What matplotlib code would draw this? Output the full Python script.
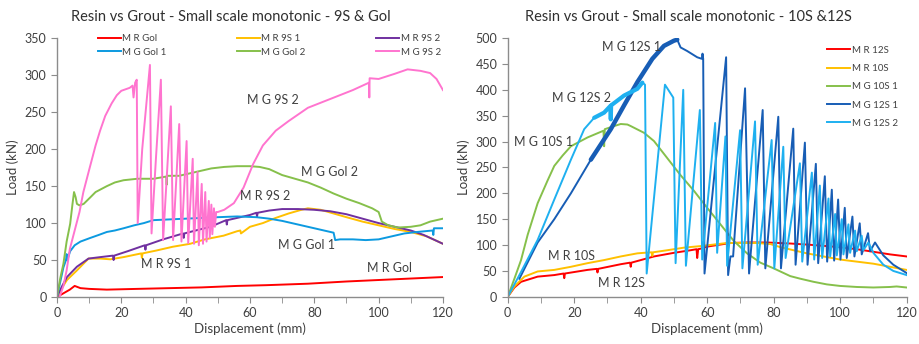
import numpy as np
import matplotlib.pyplot as plt
from matplotlib.ticker import MultipleLocator

plt.rcParams['font.family'] = ['Lato', 'DejaVu Sans']

# ---- left chart: 9S & Gol ----
mr_gol_x = [0, 2, 4, 5.5, 7.3, 10, 15.5, 25, 35, 45, 56, 65, 78, 90, 100, 110, 120]
mr_gol_y = [0, 5, 10, 15, 12, 11, 10, 11, 12, 13, 15, 16, 18, 21, 23, 25, 27]

mr_9s1_x = [0, 1.5, 3.1, 6.2, 9.8, 13.5, 16.6, 20.7, 26.2, 26.4, 26.6, 31, 36, 41.4, 46,
            51.8, 56, 57, 57.2, 60, 64, 68, 72, 76, 78, 82, 86, 90, 95, 100, 105, 110,
            115, 118, 120]
mr_9s1_y = [0, 12, 23, 36, 52, 52, 51, 54, 59, 53, 59, 63, 68, 72, 78,
            83, 89, 90, 86, 95, 100, 107, 113, 118, 120, 118, 113, 108, 102, 97, 92, 88,
            82, 76, 72]

mr_9s2_x = [0, 1.5, 3.1, 6.2, 9.8, 13.5, 17.4, 17.6, 17.8, 22, 27.3, 27.5, 27.7, 33,
            39.2, 39.4, 39.6, 44, 47.7, 52.6, 52.8, 53.0, 56, 60, 62, 62.2, 62.4, 66, 70,
            75, 80, 85, 90, 95, 100, 105, 110, 114, 117, 120]
mr_9s2_y = [0, 14, 27, 41, 52, 54, 56, 50, 56, 62, 70, 64, 70, 78,
            86, 80, 86, 91, 95, 104, 98, 104, 107, 111, 114, 109, 114, 117, 119,
            119, 118, 116, 112, 106, 100, 95, 90, 84, 78, 72]

mg_gol1_x = [0, 1, 2, 2.8, 3.0, 3.2, 4.1, 5.5, 7.3, 10.4, 13, 15.5, 18, 20.7, 24, 27, 30,
             35, 40, 45, 50, 56, 62, 66, 70, 75, 80, 84, 86, 86.5, 88, 92, 96, 100, 104,
             108, 112, 116.8, 117, 117.2, 120]
mg_gol1_y = [0, 20, 40, 50, 58, 50, 62, 70, 75, 80, 84, 88, 90, 93, 97, 100, 104,
             105, 106, 107, 108, 109, 108, 106, 103, 98, 93, 89, 87, 77, 78, 78, 77, 78, 82,
             86, 88, 90, 84, 93, 93]

mg_gol2_x = [0, 1, 2, 3, 4.1, 4.8, 5.3, 5.8, 6.2, 7, 8.3, 10.4, 12, 15.5, 18, 20.7, 25, 30,
             34, 34.1, 34.2, 38, 40, 44, 48, 52, 56, 60, 63, 66, 70, 74, 78, 82, 86, 90,
             94, 98, 100, 101, 103, 106, 110, 113, 116, 120]
mg_gol2_y = [0, 25, 45, 75, 99, 125, 142, 135, 126, 124, 126, 135, 142, 150, 155, 158, 160,
             160, 163, 152, 164, 164, 166, 170, 174, 176, 177, 177, 176, 173, 165, 160, 155,
             148, 140, 133, 127, 120, 115, 102, 97, 94, 95, 97, 102, 106]

mg_9s2_x = [0.8, 2, 3, 4, 5.5, 7, 8.2, 10, 12, 13.4, 15, 17, 18.6, 20, 22.6, 23.5, 23.8,
            24.3, 24.8, 25.1, 26.5, 28.9, 29.4, 30.8, 32.3, 33, 35.4, 36.1, 38, 38.7, 40.3,
            40.8, 42.2, 42.6, 43.7, 44.1, 45, 45.4, 46.1, 46.5, 47.2, 47.5, 48, 48.3, 48.8,
            49.1, 49.5, 50, 52, 55, 58, 61, 64, 68, 72, 78, 85, 92, 97, 97.1, 97.2, 100,
            105, 109, 113, 116, 118, 120]
mg_9s2_y = [0, 15, 36, 65, 90, 115, 142, 172, 205, 225, 245, 262, 273, 279, 283, 286, 270,
            290, 294, 100, 200, 314, 86, 190, 294, 77, 258, 77, 234, 75, 211,
            73, 187, 72, 169, 70, 153, 72, 142, 75, 130, 80, 125, 85, 120,
            95, 115, 115, 118, 127, 148, 180, 205, 225, 238, 256, 268, 280, 290, 270, 296, 295,
            302, 308, 306, 303, 295, 280]

# ---- right chart: 10S & 12S ----
mr_12s_x = [0, 2, 4, 9, 14, 16.8, 17, 17.2, 24, 26.8, 27, 27.2, 34, 36.8, 37, 37.2, 44, 50,
            55, 56.8, 57, 57.3, 58, 60, 63, 67, 72, 78, 85, 90, 96, 100, 105, 110, 115, 120]
mr_12s_y = [0, 18, 29, 39, 42, 45, 36, 45, 52, 54, 47, 54, 63, 66, 58, 66, 78, 85,
            90, 92, 75, 92, 93, 97, 100, 104, 105, 105, 103, 101, 98, 96, 92, 87, 82, 78]

mr_10s_x = [0, 2, 5, 9, 14, 19, 24, 29, 34, 39, 41, 43.3, 43.5, 43.7, 48, 53, 58, 62, 66, 70,
            75, 79, 82, 86, 90, 95, 100, 105, 110, 115, 120]
mr_10s_y = [0, 20, 39, 49, 52, 58, 65, 71, 78, 84, 85, 86, 79, 86, 90, 95, 98, 101, 104, 104,
            104, 102, 96, 90, 84, 78, 72, 68, 64, 58, 52]

mg_10s1_x = [0, 2, 4, 6, 9, 12, 14, 16.5, 19, 24, 28.8, 29, 29.2, 32, 34, 36, 37, 41, 44, 48,
             52, 56, 60, 64, 68, 72, 76, 80, 85, 88, 92, 96, 100, 105, 110, 115, 117, 120]
mg_10s1_y = [0, 35, 71, 120, 181, 225, 253, 273, 291, 308, 321, 291, 324, 330, 334, 333, 330,
             317, 301, 268, 235, 205, 172, 140, 108, 84, 66, 55, 40, 35, 29, 24, 21, 19, 18,
             19, 20, 18]

mg_12s1_x = [3.5, 9, 14, 19, 25, 31, 35, 39, 43.5, 47, 50, 51, 52, 54, 57, 58.4, 58.6, 58.8,
             59.2, 65.7, 66.3, 67.0, 67.8, 71.4, 72.6, 76.7, 77.5, 81.4, 82.2, 85.9, 86.6,
             89.4, 90.2, 92.7, 93.4, 95.4, 96.1, 97.5, 98.2, 99.4, 100.1, 101.4, 102.0, 103.7,
             104.3, 105.9, 106.5, 108.4, 109.0, 110.5, 113, 116, 120]
mg_12s1_y = [35, 105, 150, 200, 265, 324, 370, 415, 460, 485, 495, 497, 482, 475, 463, 460,
             470, 460, 45, 463, 42, 78, 78, 403, 45, 361, 55, 348, 55, 325, 62,
             298, 62, 257, 65, 233, 68, 207, 70, 188, 72, 172, 75, 155,
             78, 142, 82, 123, 88, 105, 80, 62, 46]

mg_12s2_x = [0, 4, 9, 14, 19, 23, 26, 29, 30.9, 31, 31.1, 35, 39, 40.5, 41.3, 41.8, 47.3,
             49.8, 50.5, 52.8, 53.6, 57.8, 58.5, 62.4, 63.0, 65.5, 66.0, 69.9, 70.6, 74.4,
             75.2, 79.4, 80.2, 82.9, 83.6, 87.9, 88.6, 91.5, 92.2, 93.9, 94.6, 96.5, 97.0,
             98.5, 99.0, 100.5, 101.0, 102.5, 103.0, 104.5, 105.0, 106.5, 107.0, 108.5, 110,
             113, 116, 120]
mg_12s2_y = [0, 48, 110, 188, 265, 324, 346, 356, 369, 343, 370, 389, 402, 414, 410, 45, 410,
             385, 65, 400, 60, 361, 72, 336, 85, 310, 60, 322, 55, 339,
             62, 303, 55, 290, 75, 258, 68, 240, 72, 215, 75, 190, 78,
             160, 80, 150, 82, 140, 85, 128, 88, 118, 90, 105, 85,
             62, 50, 42]

RED, ORANGE, PURPLE = '#FF0000', '#FFC000', '#7030A0'
GREEN, PINK = '#86C04B', '#FF74CF'
BLUE, DBLUE, LBLUE = '#0C9AE0', '#175DB5', '#1EB0F0'
TXT = '#404040'
LW = 1.4

fig = plt.figure(figsize=(9.19, 3.44), dpi=100)
axl = fig.add_axes([0.062, 0.1366, 0.420, 0.752])
axr = fig.add_axes([0.5525, 0.1372, 0.434, 0.752])


def style(ax, ymax):
    ax.set_xlim(0, 120)
    ax.set_ylim(0, ymax)
    ax.xaxis.set_major_locator(MultipleLocator(20))
    ax.xaxis.set_minor_locator(MultipleLocator(10))
    ax.yaxis.set_major_locator(MultipleLocator(50))
    for s in ['top', 'right']:
        ax.spines[s].set_visible(False)
    for s in ['left', 'bottom']:
        ax.spines[s].set_color('#8C8C8C')
        ax.spines[s].set_linewidth(1.0)
    ax.tick_params(which='both', direction='out', length=4, color='#8C8C8C',
                   labelsize=9, labelcolor=TXT)
    ax.set_xlabel('Displacement (mm)', fontsize=9.5, color=TXT, labelpad=2)
    ax.set_ylabel('Load (kN)', fontsize=9.5, color=TXT, labelpad=4)


style(axl, 350)
style(axr, 500)

# left chart
l1, = axl.plot(mr_gol_x, mr_gol_y, color=RED, lw=LW, label='M R Gol')
l2, = axl.plot(mr_9s1_x, mr_9s1_y, color=ORANGE, lw=LW, label='M R 9S 1')
l3, = axl.plot(mr_9s2_x, mr_9s2_y, color=PURPLE, lw=LW, label='M R 9S 2')
l4, = axl.plot(mg_gol1_x, mg_gol1_y, color=BLUE, lw=LW, label='M G Gol 1')
l5, = axl.plot(mg_gol2_x, mg_gol2_y, color=GREEN, lw=LW, label='M G Gol 2')
l6, = axl.plot(mg_9s2_x, mg_9s2_y, color=PINK, lw=LW, label='M G 9S 2')
# legend filled row by row
axl.legend([l1, l4, l2, l5, l3, l6],
           ['M R Gol', 'M G Gol 1', 'M R 9S 1', 'M G Gol 2', 'M R 9S 2', 'M G 9S 2'],
           ncol=3, loc='upper left', bbox_to_anchor=(0.095, 1.03), frameon=False,
           fontsize=7, handlelength=2.4, handletextpad=0.15, columnspacing=7.2,
           labelspacing=0.45, borderaxespad=0, labelcolor=TXT)

for txt, x, y in [('M G 9S 2', 59, 267), ('M G Gol 2', 76, 169), ('M R 9S 2', 57, 137),
                  ('M G Gol 1', 68.8, 70), ('M R 9S 1', 26, 45), ('M R Gol', 96.3, 39)]:
    axl.text(x, y, txt, fontsize=9, color=TXT, va='center', ha='left')

# right chart
axr.plot(mr_12s_x, mr_12s_y, color=RED, lw=LW, label='M R 12S')
axr.plot(mr_10s_x, mr_10s_y, color=ORANGE, lw=LW, label='M R 10S')
axr.plot(mg_10s1_x, mg_10s1_y, color=GREEN, lw=LW, label='M G 10S 1')
axr.plot(mg_12s1_x, mg_12s1_y, color=DBLUE, lw=LW, label='M G 12S 1')
axr.plot(mg_12s2_x, mg_12s2_y, color=LBLUE, lw=LW, label='M G 12S 2')

# noisy (thick-looking) parts of the rising branches
x1, y1 = np.array(mg_12s1_x), np.array(mg_12s1_y)
k1 = int(np.argmax(y1))
sel1 = slice(int(np.searchsorted(x1[:k1], 22)), k1 + 1)
axr.plot(x1[sel1], y1[sel1], color=DBLUE, lw=3.2, solid_capstyle='round')
x2, y2 = np.array(mg_12s2_x), np.array(mg_12s2_y)
k2 = int(np.argmax(y2))
sel2 = slice(int(np.searchsorted(x2[:k2], 24)), k2 + 1)
axr.plot(x2[sel2], y2[sel2], color=LBLUE, lw=3.0, solid_capstyle='round')

axr.legend(loc='upper left', bbox_to_anchor=(0.79, 0.985), frameon=False, fontsize=7,
           handlelength=2.4, handletextpad=0.15, labelspacing=0.95, borderaxespad=0,
           labelcolor=TXT)

for txt, x, y in [('M G 12S 1', 28.3, 483), ('M G 12S 2', 13.2, 384), ('M G 10S 1', 2, 300),
                  ('M R 10S', 12.2, 79), ('M R 12S', 27.3, 26)]:
    axr.text(x, y, txt, fontsize=9, color=TXT, va='center', ha='left')

fig.text(0.251, 0.95, 'Resin vs Grout - Small scale monotonic - 9S & Gol',
         ha='center', va='center', fontsize=10.5, color='#303030')
fig.text(0.749, 0.95, 'Resin vs Grout - Small scale monotonic - 10S &12S',
         ha='center', va='center', fontsize=10.5, color='#303030')

fig.savefig('out.png', dpi=100)
